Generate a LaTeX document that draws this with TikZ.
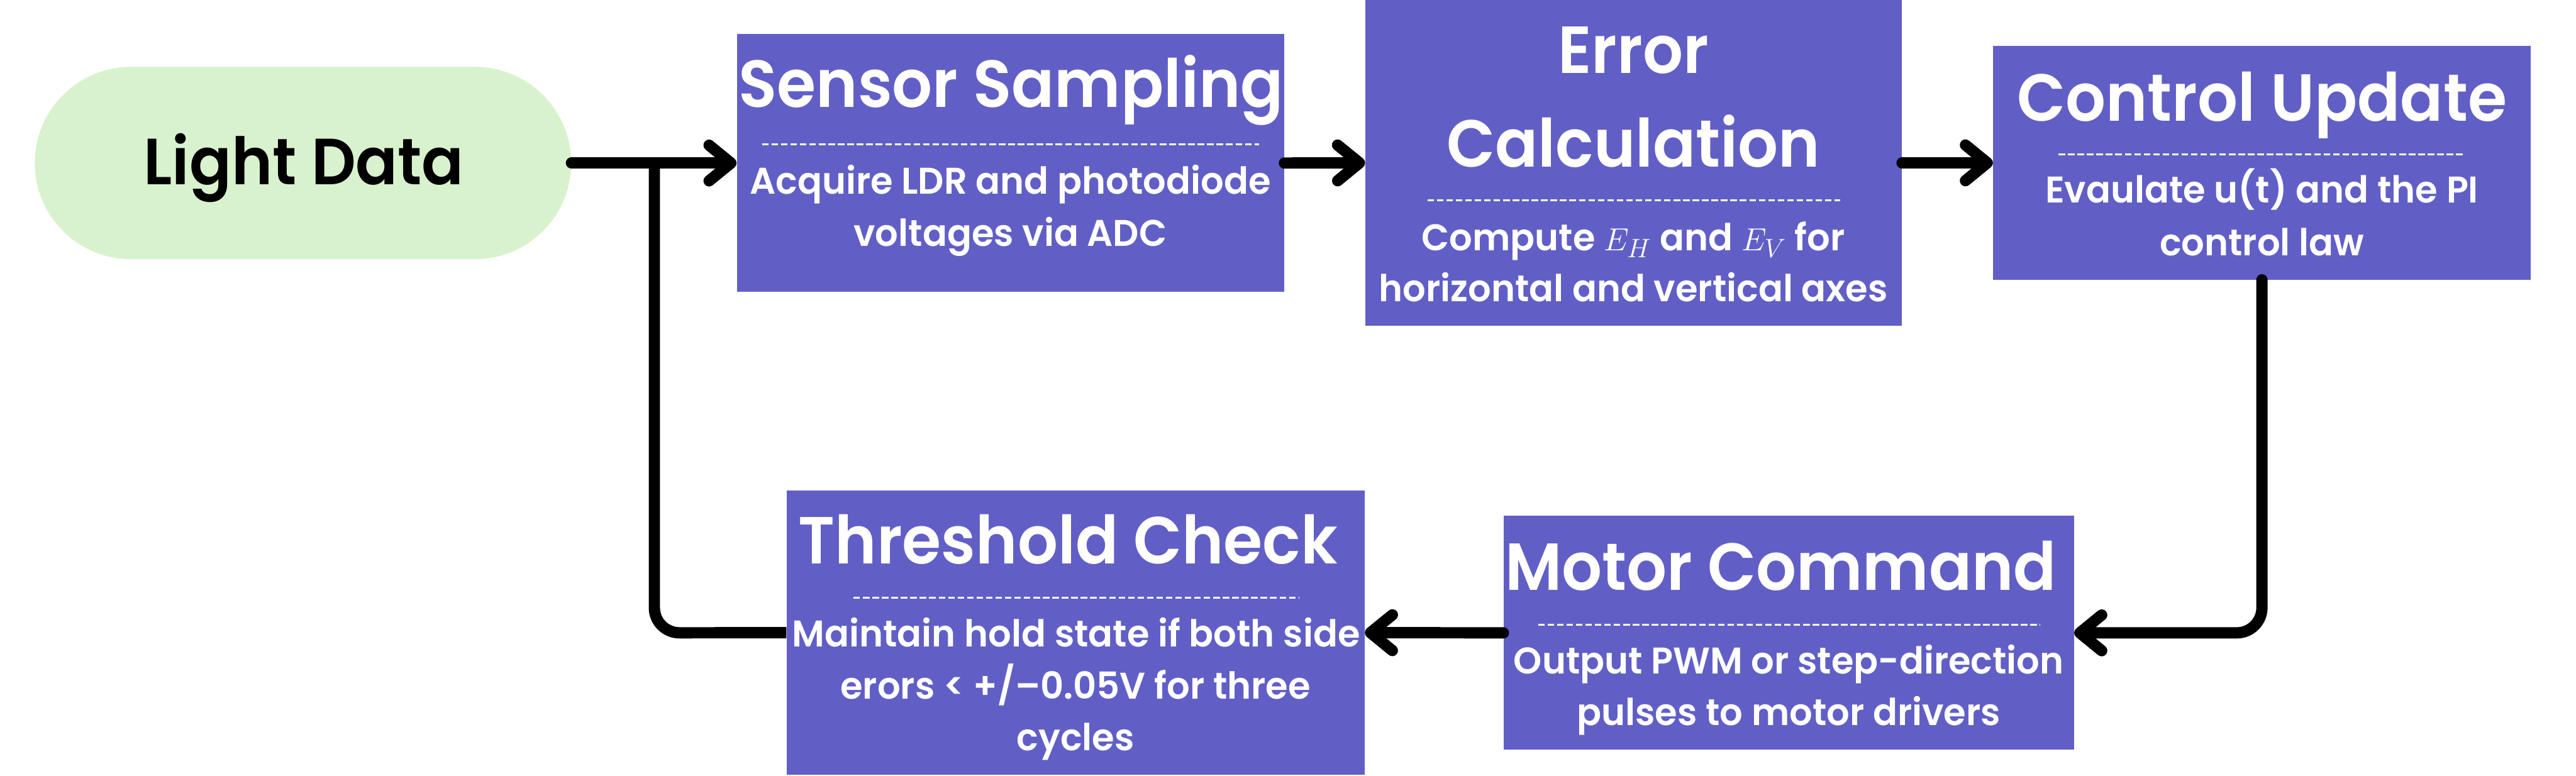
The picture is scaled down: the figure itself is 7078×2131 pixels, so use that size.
\documentclass[tikz,border=0pt]{standalone}
\usepackage{fontspec}
\setmainfont{Poppins}
\newfontfamily\tfont{Poppins SemiBold}[FakeStretch=0.95]
\newfontfamily\bfont{Poppins SemiBold}[FakeStretch=0.975]
\usetikzlibrary{arrows.meta,shapes.misc}
\definecolor{boxc}{RGB}{97,95,198}
\definecolor{pillc}{RGB}{217,242,206}
\begin{document}
\begin{tikzpicture}[x=0.01cm,y=-0.01cm,
  box/.style={rectangle,fill=boxc,draw=none,inner sep=0pt},
  ttl/.style={anchor=base,text=white,inner sep=0pt,font=\tfont\fontsize{52}{60}\selectfont},
  bdy/.style={anchor=base,text=white,inner sep=0pt,font=\bfont\fontsize{29}{34}\selectfont},
  sep/.style={white,line width=0.05cm,dash pattern=on 0.18cm off 0.08cm},
  conn/.style={line width=0.31cm,line cap=round,rounded corners=0.69cm},
  arr/.style={conn,-{Straight Barb[length=0.6cm,width=0.98cm,round]}}]
\useasboundingbox (0,0) rectangle (7078,2131);
% boxes
\node[rounded rectangle,fill=pillc,draw=none,minimum width=14.73cm,minimum height=5.28cm,inner sep=0pt] (ld) at (832.5,448) {};
\node[anchor=base,inner sep=0pt,font=\tfont\fontsize{51}{60}\selectfont] (ldt) at (835,507) {Light Data};
\node[box,minimum width=15.03cm,minimum height=7.08cm] (ss) at (2776.5,448) {};
\node[box,minimum width=14.73cm,minimum height=8.95cm] (ec) at (4488.5,447.5) {};
\node[box,minimum width=14.76cm,minimum height=6.41cm] (cu) at (6215,447.5) {};
\node[box,minimum width=15.66cm,minimum height=6.42cm] (mc) at (4915,1739) {};
\node[box,minimum width=15.87cm,minimum height=7.81cm] (tc) at (2955.5,1738.5) {};
% Sensor Sampling
\node[ttl] (sst) at (2778,295) {Sensor Sampling};
\draw[sep] (2094,397) -- (3460,397);
\node[bdy] (ssb1) at (2776,533) {Acquire LDR and photodiode};
\node[bdy] (ssb2) at (2776,676) {voltages via ADC};
% Error Calculation
\node[ttl] (ect1) at (4488,202) {Error};
\node[ttl] (ect2) at (4488,459) {Calculation};
\draw[sep] (3922,551) -- (5057,551);
\node[bdy] (ecb1) at (4488,688) {Compute $E_H$ and $E_V$ for};
\node[bdy] (ecb2) at (4488,829) {horizontal and vertical axes};
% Control Update
\node[ttl] (cut) at (6215,332) {Control Update};
\draw[sep] (5656,424) -- (6770,424);
\node[bdy] (cub1) at (6215,558) {Evaulate u(t) and the PI};
\node[bdy] (cub2) at (6215,703) {control law};
% Motor Command
\node[ttl] (mct) at (4893,1622) {Motor Command};
\draw[sep] (4226,1717) -- (5606,1717);
\node[bdy] (mcb1) at (4915,1851) {Output PWM or step-direction};
\node[bdy] (mcb2) at (4915,1994) {pulses to motor drivers};
% Threshold Check
\node[ttl] (tct) at (2935,1550) {Threshold Check};
\draw[sep] (2345,1643) -- (3570,1643);
\node[bdy] (tcb1) at (2957,1777) {Maintain hold state if both side};
\node[bdy] (tcb2) at (2955,1921) {erors < +/–0.05V for three};
\node[bdy] (tcb3) at (2955,2063) {cycles};
% connectors
\coordinate (jn) at (1798,448);
\coordinate (jb) at (1798,1739);
\coordinate (cr) at (6215,1739);
\draw[arr] (ld.east) -- (ss.west);
\draw[arr] (ss.east) -- (ec.west);
\draw[arr] (ec.east) -- (cu.west);
\draw[arr] (cu.south) -- (cr) -- (mc.east);
\draw[arr] (mc.west) -- (tc.east);
\draw[conn,line cap=butt] (tc.west) -- (jb) -- (jn);
\end{tikzpicture}
\end{document}
